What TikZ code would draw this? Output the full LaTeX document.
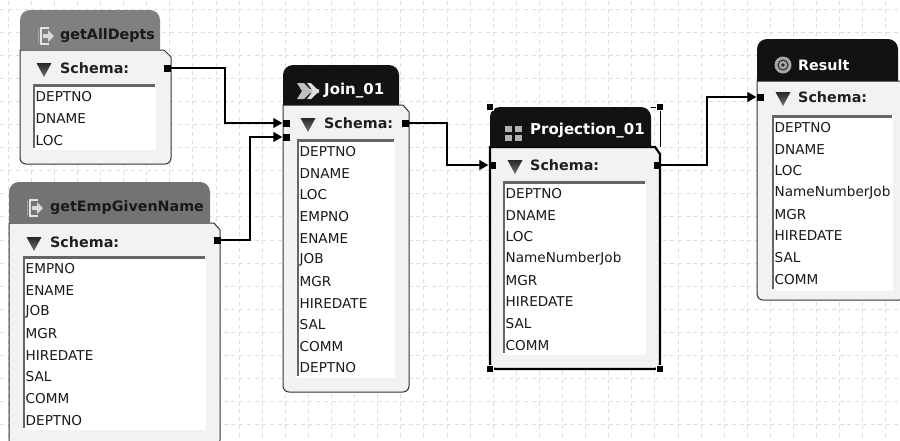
\documentclass[tikz,border=0pt]{standalone}
\usepackage{fontspec}
\setmainfont{DejaVu Sans}
\newfontfamily\boldfam{DejaVu Sans Bold}
\usetikzlibrary{arrows.meta,calc}
\tikzset{
  gridline/.style={draw=black!13,line width=1pt,dash pattern=on 4pt off 3.7pt},
  bodyshape/.style={fill=black!5,draw=black!80,line width=1pt},
  selected/.style={draw=black,line width=2.2pt},
  itemtext/.style={anchor=west,inner sep=0pt,font=\fontsize{13.6}{14}\selectfont,text=black!90},
  schematext/.style={anchor=west,inner sep=0pt,font=\boldfam\fontsize{14.3}{15}\selectfont,text=black!88},
  titletext/.style={anchor=west,inner sep=0pt,font=\boldfam\fontsize{14.3}{15}\selectfont},
  widetitle/.style={anchor=west,inner sep=0pt,font=\boldfam\fontsize{15}{15}\selectfont},
  port/.style={fill=black,draw=none,minimum size=7pt,inner sep=0pt,rectangle},
  handle/.style={fill=black,draw=white,line width=0.4pt,minimum size=7pt,inner sep=0pt,rectangle},
  wire/.style={draw=black,line width=1.2pt,-{Triangle[length=9pt,width=10pt]}}
}
% id, left, header right, body right, top, header bottom, bottom, header colour, outline style
\newcommand{\opshape}[9]{%
  \path[bodyshape,#9] (#2,#6) -- (#3+4,#6) -- (#4,#6+7) [rounded corners=6pt] -- (#4,#7) -- (#2,#7) [sharp corners] -- (#2,#6) -- cycle;
  \fill[fill=#8] (#2,#6) [rounded corners=10pt] -- (#2,#5) -- (#3,#5) [sharp corners] -- (#3,#6) -- cycle;
}
% id, list left, list right, list top, list bottom, schema y, triangle x, text x
\newcommand{\schemabox}[8]{%
  \fill[white] (#2,#4) rectangle (#3,#5);
  \fill[black!60] (#2,#4) rectangle (#3-1,#4+2.5);
  \fill[black!60] (#2,#4) rectangle (#2+2,#5-2);
  \shade[top color=black!85,bottom color=black!55] (#7-7.5,#6-5) -- (#7+7.5,#6-5) -- (#7,#6+9) -- cycle;
  \node[schematext] (#1schema) at (#8,#6) {Schema:};
}
% id, x, first y, step, list
\newcommand{\itemlist}[5]{%
  \foreach \t [count=\i from 0] in {#5} {
    \node[itemtext] (#1item\i) at (#2,#3+\i*#4) {\t};
  }
}
\newcommand{\exiticon}[2]{%
  \begin{scope}[shift={(#1,#2)}]
    \draw[black!10,line width=1.6pt] (5,-8) -- (-3,-8) -- (-3,8) -- (5,8);
    \draw[black!35,line width=1pt] (-5.5,-7) -- (-5.5,7);
    \fill[black!15] (-1,-2) -- (4,-2) -- (4,-6) -- (10,0) -- (4,6) -- (4,2) -- (-1,2) -- cycle;
  \end{scope}
}
\begin{document}
\begin{tikzpicture}[x=1pt,y=-1pt]
\clip (0,0) rectangle (900,440);
\fill[white] (0,0) rectangle (900,440);
\foreach \k in {0,...,19} \draw[gridline] (-15,{9+23.1*\k}) -- (900,{9+23.1*\k});
\foreach \k in {0,...,39} \draw[gridline] ({8.1+23.1*\k},-14.1) -- ({8.1+23.1*\k},440);

% getAllDepts
\opshape{a}{20}{160}{171}{10}{50}{164}{black!50}{}
\exiticon{44}{36}
\node[titletext,text=black!90] (atitle) at (60,36) {getAllDepts};
\schemabox{a}{33}{156}{84}{150}{68}{44}{60}
\itemlist{a}{35.5}{97}{21.7}{DEPTNO,DNAME,LOC}

% getEmpGivenName
\opshape{b}{9}{210}{220}{182}{223}{446}{black!55}{}
\exiticon{33}{208}
\node[titletext,text=black!90] (btitle) at (50,208) {getEmpGivenName};
\schemabox{b}{23}{206}{256}{430}{242}{34}{50}
\itemlist{b}{25.5}{268.5}{21.7}{EMPNO,ENAME,JOB,MGR,HIREDATE,SAL,COMM,DEPTNO}

% Join_01
\opshape{c}{283}{399}{409}{65}{105}{392}{black!93}{}
\begin{scope}[shift={(308,91)}]
  \fill[black!25] (-11,-8) -- (-4,-8) -- (2,-2) -- (11,-2) -- (11,2) -- (2,2) -- (-4,8) -- (-11,8) -- (-6,0) -- cycle;
  \fill[black!12] (-1,-8) -- (3,-8) -- (11,0) -- (3,8) -- (-1,8) -- (5,0) -- cycle;
\end{scope}
\node[widetitle,text=white] (ctitle) at (324,91) {Join\_01};
\schemabox{c}{297}{395}{139}{378}{123}{308}{324}
\itemlist{c}{299.5}{151.5}{21.65}{DEPTNO,DNAME,LOC,EMPNO,ENAME,JOB,MGR,HIREDATE,SAL,COMM,DEPTNO}

% Projection_01
\opshape{d}{490}{651}{660}{107}{147}{369}{black!93}{selected}
\foreach \qx/\qy in {505/126,515/126,505/135,515/135}
  \fill[black!30] (\qx,\qy) rectangle ++(7,6);
\node[widetitle,text=white] (dtitle) at (530,131) {Projection\_01};
\schemabox{d}{503}{646}{181}{355}{165}{515}{530}
\itemlist{d}{505.5}{193.5}{21.65}{DEPTNO,DNAME,LOC,NameNumberJob,MGR,HIREDATE,SAL,COMM}
\draw[black,line width=1pt] (651,107) -- (660,107) -- (660,147);
\node[handle] (h1) at (490,107) {};
\node[handle] (h2) at (660,107) {};
\node[handle] (h3) at (490,369) {};
\node[handle] (h4) at (660,369) {};

% Result
\opshape{e}{757}{898}{905}{39}{81}{300}{black!93}{}
\fill[black!35] (783,65) circle (8.5pt);
\draw[black!85,line width=1pt] (783,65) circle (5pt);
\fill[black!85] (783,65) circle (1.8pt);
\node[titletext,text=white] (etitle) at (798,65) {Result};
\schemabox{e}{772}{893}{115}{291}{97}{783}{798}
\itemlist{e}{774.5}{127.5}{21.7}{DEPTNO,DNAME,LOC,NameNumberJob,MGR,HIREDATE,SAL,COMM}

% ports
\node[port] (aout) at (167,68) {};
\node[port] (bout) at (217,240) {};
\node[port] (cin1) at (286,123) {};
\node[port] (cin2) at (286,137) {};
\node[port] (cout) at (405,123) {};
\node[port] (din) at (492,165) {};
\node[port] (dout) at (657,165) {};
\node[port] (ein) at (760,97) {};

% bends
\coordinate (m1) at (225,0);
\coordinate (m2) at (250,0);
\coordinate (m3) at (447,0);
\coordinate (m4) at (707,0);

% connectors
\draw[wire] (aout.east) -- (m1 |- aout) -- (m1 |- cin1) -- (cin1.west);
\draw[wire] (bout.east) -- (m2 |- bout) -- (m2 |- cin2) -- (cin2.west);
\draw[wire] (cout.east) -- (m3 |- cout) -- (m3 |- din) -- (din.west);
\draw[wire] (dout.east) -- (m4 |- dout) -- (m4 |- ein) -- (ein.west);
\end{tikzpicture}
\end{document}
